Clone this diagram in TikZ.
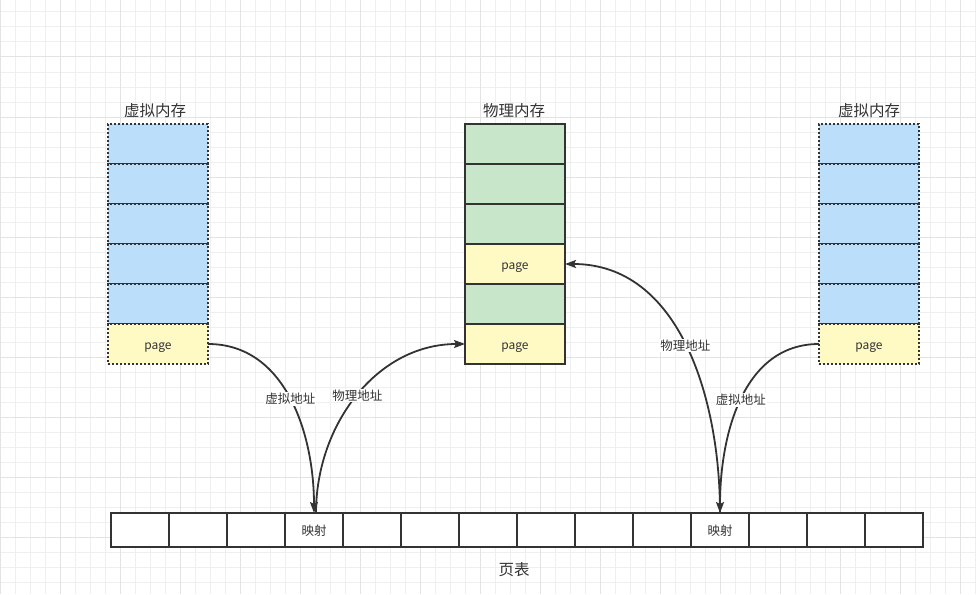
\documentclass[tikz,border=0pt]{standalone}
\usepackage{fontspec}
\setmainfont{Noto Sans CJK SC}
\usetikzlibrary{arrows.meta}
\definecolor{ink}{HTML}{333333}
\definecolor{gridminor}{HTML}{EFEFEF}
\definecolor{gridmajor}{HTML}{E3E3E3}
\definecolor{vblue}{HTML}{BBDEFB}
\definecolor{pgreen}{HTML}{C8E6C9}
\definecolor{pageyel}{HTML}{FFF9C4}
\begin{document}
\begin{tikzpicture}[x=1pt,y=-1pt,
  cellbase/.style={minimum width=100pt,minimum height=40pt,inner sep=0pt,outer sep=0pt,
    text=ink,font=\fontsize{12}{14}\selectfont,text height=1.1em,text depth=0.1em},
  vcell/.style={cellbase,draw=ink,line width=1.6pt,dash pattern=on 2pt off 2pt,fill=vblue},
  vpage/.style={vcell,fill=pageyel},
  pcell/.style={cellbase,draw=ink,line width=1.6pt,fill=pgreen},
  ppage/.style={pcell,fill=pageyel},
  tcell/.style={draw=ink,line width=1.8pt,minimum width=58pt,minimum height=34pt,inner sep=0pt,
    outer sep=0pt,fill=white},
  celltext/.style={text=ink,font=\fontsize{12.5}{14}\selectfont,text height=1.1em,text depth=0.1em},
  title/.style={text=ink,font=\fontsize{15.5}{17}\selectfont,inner sep=0pt},
  link/.style={draw=ink,line width=1.8pt,-{Stealth[length=11pt,width=8pt,inset=2pt]}},
  linklabel/.style={fill=white,text=ink,font=\fontsize{12.5}{14}\selectfont,inner sep=1pt}]

% canvas and background grid
\useasboundingbox (0,0) rectangle (976,594);
\fill[white] (0,0) rectangle (976,594);
\foreach \x in {0,15,...,975} \draw[gridminor,line width=1pt] (\x,0) -- (\x,594);
\foreach \y in {-3,12,...,594} \draw[gridminor,line width=1pt] (0,\y) -- (976,\y);
\foreach \x in {0,60,...,975} \draw[gridmajor,line width=1pt] (\x,0) -- (\x,594);
\foreach \y in {-3,57,...,594} \draw[gridmajor,line width=1pt] (0,\y) -- (976,\y);

% left virtual memory
\node[title] (lvt) at (155,110.5) {虚拟内存};
\foreach \i in {1,...,5} \node[vcell] (lv\i) at (158,{104+40*\i}) {};
\node[vpage] (lv6) at (158,344) {page};

% physical memory
\node[title] (pmt) at (514,110.5) {物理内存};
\node[pcell] (p1) at (515,144) {};
\node[pcell] (p2) at (515,184) {};
\node[pcell] (p3) at (515,224) {};
\node[ppage] (p4) at (515,264) {page};
\node[pcell] (p5) at (515,304) {};
\node[ppage] (p6) at (515,344) {page};

% right virtual memory
\node[title] (rvt) at (869,110.5) {虚拟内存};
\foreach \i in {1,...,5} \node[vcell] (rv\i) at (869,{104+40*\i}) {};
\node[vpage] (rv6) at (869,344) {page};

% page table
\foreach \i in {1,...,14} \node[tcell] (t\i) at ({111+58*(\i-0.5)},530) {};
\node[celltext] (m4) at (t4) {映射};
\node[celltext] (m11) at (t11) {映射};
\node[title] (ptt) at (514,569.5) {页表};

% address translation links
\draw[link] (lv6.east) to[out=0,in=90]
  node[linklabel,pos=0.5] {虚拟地址} (t4.north);
\draw[link] ([xshift=2pt]t4.north) to[out=90,in=180]
  node[linklabel,pos=0.5] {物理地址} (p6.west);
\draw[link] (rv6.west) to[out=180,in=90]
  node[linklabel,pos=0.5] {虚拟地址} (t11.north);
\draw[link] (t11.north) to[out=90,in=0]
  node[linklabel,pos=0.5] {物理地址} (p4.east);
\end{tikzpicture}
\end{document}
